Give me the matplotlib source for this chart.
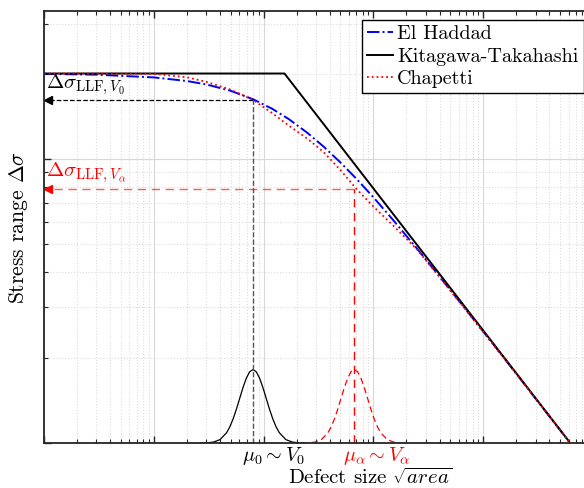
import numpy as np
import matplotlib
matplotlib.use("Agg")
import matplotlib.pyplot as plt
from matplotlib.ticker import NullFormatter

plt.rcParams['font.family'] = 'serif'
plt.rcParams['font.serif'] = ['cmr10']
plt.rcParams['mathtext.fontset'] = 'cm'
plt.rcParams['axes.unicode_minus'] = False
plt.rcParams['axes.formatter.use_mathtext'] = True

# threshold curves: defect size sqrt(area) vs stress range
defect_size = [1, 3, 10, 20, 30, 50, 80, 120, 170, 250, 350, 500, 700,
               1000, 1500, 2500, 4000, 7000, 12000, 25000, 60000]
el_haddad = [199.4, 198.1, 193.8, 188.2, 183.1, 173.9, 162.4, 150.2, 138.1,
             123.7, 110.8, 97.3, 85.2, 73.3, 61.2, 48.3, 38.6, 29.4, 22.6,
             15.7, 10.15]
chapetti = [200, 200, 199.5, 194, 187, 175.5, 161.5, 145, 131, 118, 106,
            91.5, 78.5, 68, 58.5, 48, 38.4, 29.3, 22.5, 15.7, 10.15]
kt_size = [1, 155, 60000]
kt_stress = [200, 200, 10.17]

# defect size distributions (offset in decades from the mean, relative density)
pdf_offset = [-0.48, -0.42, -0.36, -0.30, -0.24, -0.21, -0.18, -0.15, -0.12,
              -0.09, -0.06, -0.03, 0.0, 0.03, 0.06, 0.09, 0.12, 0.15, 0.18,
              0.21, 0.24, 0.30, 0.36, 0.42, 0.48]
pdf_density = [0.0004, 0.0024, 0.012, 0.046, 0.140, 0.222, 0.331, 0.464,
               0.612, 0.758, 0.884, 0.970, 1.0, 0.970, 0.884, 0.758, 0.612,
               0.464, 0.331, 0.222, 0.140, 0.046, 0.012, 0.0024, 0.0004]
mu_0 = 80
mu_alpha = 670
llf_v0 = 161
llf_valpha = 78.5

fig = plt.figure(figsize=(5.84, 4.88), dpi=100)
ax = fig.add_axes([44 / 584, 45 / 488, 549 / 584, 432 / 488])
ax.set_xscale('log')
ax.set_yscale('log')
ax.set_xlim(1, 1e5)
ax.set_ylim(10, 332)

ax.plot(defect_size, el_haddad, color='blue', ls='-.', lw=1.4, label='El Haddad')
ax.plot(kt_size, kt_stress, color='black', ls='-', lw=1.4, label='Kitagawa-Takahashi')
ax.plot(defect_size, chapetti, color='red', ls=':', lw=1.3, label='Chapetti')

# distributions drawn in axes-fraction height
peak = 0.17
tr = ax.get_xaxis_transform()
off = np.array(pdf_offset)
dens = np.array(pdf_density) * peak
ax.plot(mu_0 * 10 ** off, dens, color='black', lw=0.9, transform=tr)
ax.plot(mu_alpha * 10 ** off, dens, color='red', lw=0.9, ls=(0, (5, 3)), transform=tr)

# LLF projections
ax.plot([mu_0, 1.09], [llf_v0, llf_v0], color='black', ls='--', lw=0.9)
ax.plot([mu_0, mu_0], [10, llf_v0], color='#555555', ls='--', lw=1.0)
ax.plot([1.09], [llf_v0], marker='<', color='black', ms=6, clip_on=False)
ax.plot([mu_alpha, 1.09], [llf_valpha, llf_valpha], color='red', alpha=0.65,
        ls=(0, (6, 4)), lw=1.0)
ax.plot([mu_alpha, mu_alpha], [10, llf_valpha], color='red', ls=(0, (6, 4)), lw=1.0)
ax.plot([1.09], [llf_valpha], marker='<', color='red', ms=6, clip_on=False)

ax.text(1.05, llf_v0 * 1.025, r'$\Delta\sigma_{\mathrm{LLF},V_0}$', fontsize=15,
        color='black', va='bottom', ha='left')
ax.text(1.05, llf_valpha * 1.03, r'$\Delta\sigma_{\mathrm{LLF},V_\alpha}$', fontsize=15,
        color='red', va='bottom', ha='left')

ax.annotate(r'$\mu_0 \sim V_0$', xy=(mu_0, 0), xycoords=tr, xytext=(-11, -2),
            textcoords='offset pixels', ha='left', va='top', fontsize=14.5)
ax.annotate(r'$\mu_\alpha \sim V_\alpha$', xy=(mu_alpha, 0), xycoords=tr, xytext=(-11, -2),
            textcoords='offset pixels', ha='left', va='top', fontsize=14.5, color='red')

ax.set_xlabel(r'Defect size $\sqrt{area}$', fontsize=15)
ax.xaxis.set_label_coords((370 - 44) / 549, -0.058)
ax.set_ylabel(r'Stress range $\Delta\sigma$', fontsize=15.5)
ax.yaxis.set_label_coords(-0.026, 0.5)

ax.xaxis.set_major_formatter(NullFormatter())
ax.xaxis.set_minor_formatter(NullFormatter())
ax.yaxis.set_major_formatter(NullFormatter())
ax.yaxis.set_minor_formatter(NullFormatter())
ax.tick_params(which='both', direction='in', top=True, right=True, color='#262626')
ax.tick_params(which='major', length=5, width=1.0)
ax.tick_params(which='minor', length=3, width=0.8)

ax.grid(which='major', color='#d8d8d8', ls='-', lw=0.8)
ax.grid(which='minor', color='#dcdcdc', ls=':', lw=0.8)
for s in ax.spines.values():
    s.set_color('#262626')
    s.set_linewidth(1.3)

leg = fig.legend(loc='upper right', bbox_to_anchor=(583.5 / 584, 1 - 20 / 488),
                 borderaxespad=0, fontsize=14.5, handlelength=1.3, handletextpad=0.2,
                 borderpad=0.25, labelspacing=0.22, fancybox=False, framealpha=1)
leg.get_frame().set_edgecolor('black')
leg.get_frame().set_linewidth(1.0)

fig.savefig('out.png', dpi=100)
